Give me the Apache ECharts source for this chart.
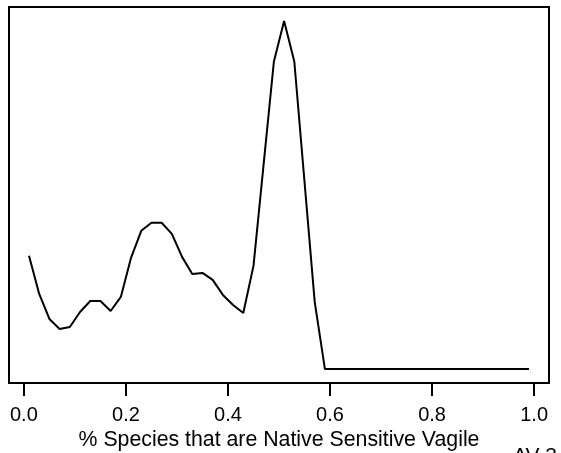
<!DOCTYPE html>
<html>
<head>
<meta charset="utf-8">
<script src="https://cdn.jsdelivr.net/npm/echarts@6/dist/echarts.min.js"></script>
<style>
html,body{margin:0;padding:0;background:#fff;}
#c{width:561px;height:453px;}
</style>
</head>
<body>
<div id="c"></div>
<script>
var xValues = [0.01,0.03,0.05,0.07,0.09,0.11,0.13,0.15,0.17,0.19,
               0.21,0.23,0.25,0.27,0.29,0.31,0.33,0.35,0.37,0.39,
               0.41,0.43,0.45,0.47,0.49,0.51,0.53,0.55,0.57,0.59,
               0.61,0.63,0.65,0.67,0.69,0.71,0.73,0.75,0.77,0.79,
               0.81,0.83,0.85,0.87,0.89,0.91,0.93,0.95,0.97,0.99];
var densityValues = [1.13,0.75,0.50,0.40,0.42,0.57,0.68,0.68,0.58,0.72,
                     1.11,1.38,1.46,1.46,1.35,1.12,0.95,0.96,0.89,0.74,
                     0.64,0.56,1.03,2.05,3.07,3.475,3.07,1.87,0.67,0,
                     0,0,0,0,0,0,0,0,0,0,
                     0,0,0,0,0,0,0,0,0,0];
var tickValues = [0, 0.2, 0.4, 0.6, 0.8, 1.0];
var tickLabels = ['0.0', '0.2', '0.4', '0.6', '0.8', '1.0'];
var xTitle = '% Species that are Native Sensitive Vagile';
var cornerNote = 'AV-3';

var FONT = 'Liberation Sans, Arial, Helvetica, sans-serif';
var chart = echarts.init(document.getElementById('c'), null, {renderer: 'canvas'});
var pts = xValues.map(function (x, i) { return [x, densityValues[i]]; });
var xMin = 0.01 - 0.04 * 0.98, xMax = 0.99 + 0.04 * 0.98;
var yTop = 3.475;
chart.setOption({
  animation: false,
  backgroundColor: '#ffffff',
  grid: {left: 9, top: 7, right: 12, bottom: 70, outerBoundsMode: 'none', containLabel: false,
    show: true, borderColor: '#000', borderWidth: 2, backgroundColor: 'transparent'},
  xAxis: {
    type: 'value', min: xMin, max: xMax, position: 'bottom',
    axisLine: {show: false, onZero: false},
    splitLine: {show: false},
    axisTick: {show: true, length: 13, inside: false, customValues: tickValues, lineStyle: {color: '#000', width: 2}},
    axisLabel: {show: true, customValues: tickValues, margin: 22, color: '#000', fontSize: 20, fontFamily: FONT,
      formatter: function (v) { var i = tickValues.indexOf(v); return i >= 0 ? tickLabels[i] : v.toFixed(1); }},
    name: xTitle, nameLocation: 'middle', nameGap: 47,
    nameTextStyle: {color: '#000', fontSize: 21.3, fontFamily: FONT}
  },
  yAxis: {
    type: 'value', min: -0.04 * yTop, max: yTop * 1.04,
    show: false
  },
  series: [{
    type: 'line', data: pts, symbol: 'none', smooth: false,
    lineStyle: {color: '#000', width: 2}
  }],
  graphic: [{
    type: 'text', left: 513, top: 446,
    style: {text: cornerNote, fill: '#000', font: '21px ' + FONT}
  }]
});
</script>
</body>
</html>
